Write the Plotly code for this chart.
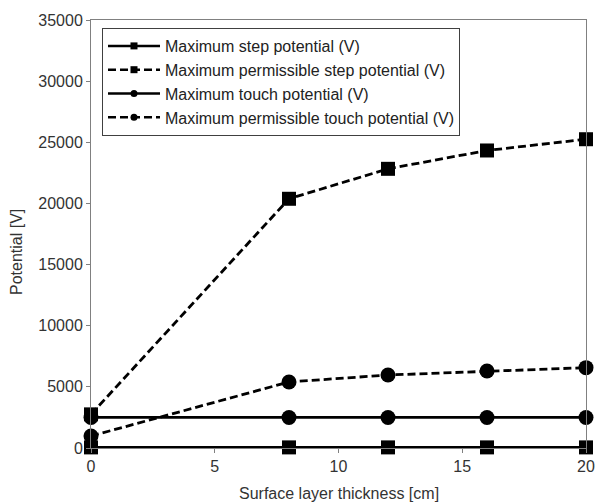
import plotly.graph_objects as go

thickness = [0, 8, 12, 16, 20]
step_potential = [50, 50, 50, 50, 50]
perm_step = [2750, 20380, 22830, 24330, 25250]
touch_potential = [2500, 2500, 2500, 2500, 2500]
perm_touch = [980, 5400, 5970, 6300, 6570]

names = [
    "Maximum step potential (V)",
    "Maximum permissible step potential (V)",
    "Maximum touch potential (V)",
    "Maximum permissible touch potential (V)",
]
series = [step_potential, perm_step, touch_potential, perm_touch]
symbols = ["square", "square", "circle", "circle"]
dashes = ["solid", "8px,4px", "solid", "8px,4px"]

FONT = "Liberation Sans, Arial, sans-serif"

fig = go.Figure()
for i, (nm, ys, sym, dsh) in enumerate(zip(names, series, symbols, dashes)):
    fig.add_trace(go.Scatter(
        x=thickness, y=ys, name=nm, mode="lines+markers",
        line=dict(color="black", width=2.8, dash=dsh),
        marker=dict(symbol=sym, size=14 if sym == "square" else 15, color="black"),
        cliponaxis=False, showlegend=False,
    ))
for i, (nm, sym, dsh) in enumerate(zip(names, symbols, dashes)):
    fig.add_trace(go.Scatter(
        x=[None], y=[None], name=nm, mode="lines+markers",
        line=dict(color="black", width=2.5, dash=dsh),
        marker=dict(symbol=sym, size=7, color="black"),
        legendgroup=str(i),
    ))

axis_common = dict(
    showgrid=False, zeroline=False, showline=True, linecolor="#808080", linewidth=1,
    mirror=True, ticks="outside", ticklen=4, tickcolor="#808080", automargin=False,
    tickfont=dict(family=FONT, size=16, color="#333333"),
)
fig.update_xaxes(range=[0, 20], dtick=5, **axis_common)
fig.update_yaxes(range=[0, 35000], dtick=5000, tickformat="d", **axis_common)

fig.add_annotation(text="Surface layer thickness [cm]", xref="paper", yref="paper",
                   x=0.5, y=-(493 - 448) / 428, xanchor="center", yanchor="middle",
                   showarrow=False, font=dict(family=FONT, size=16, color="#333333"))
fig.add_annotation(text="Potential [V]", xref="paper", yref="paper",
                   x=(16 - 91) / 495, y=(448 - 252) / 428, xanchor="center", yanchor="middle",
                   textangle=-90, showarrow=False,
                   font=dict(family=FONT, size=16, color="#333333"))

fig.update_layout(
    width=595, height=504, margin=dict(l=91, r=9, t=20, b=56, autoexpand=False),
    paper_bgcolor="white", plot_bgcolor="white",
    legend=dict(x=(102 - 91) / 495, y=(448 - 28) / 428, xanchor="left", yanchor="top",
                bordercolor="#404040", borderwidth=1, bgcolor="white",
                font=dict(family=FONT, size=16, color="#222222"),
                tracegroupgap=0, itemwidth=52),
    showlegend=True,
)
fig.write_html("out.html")
